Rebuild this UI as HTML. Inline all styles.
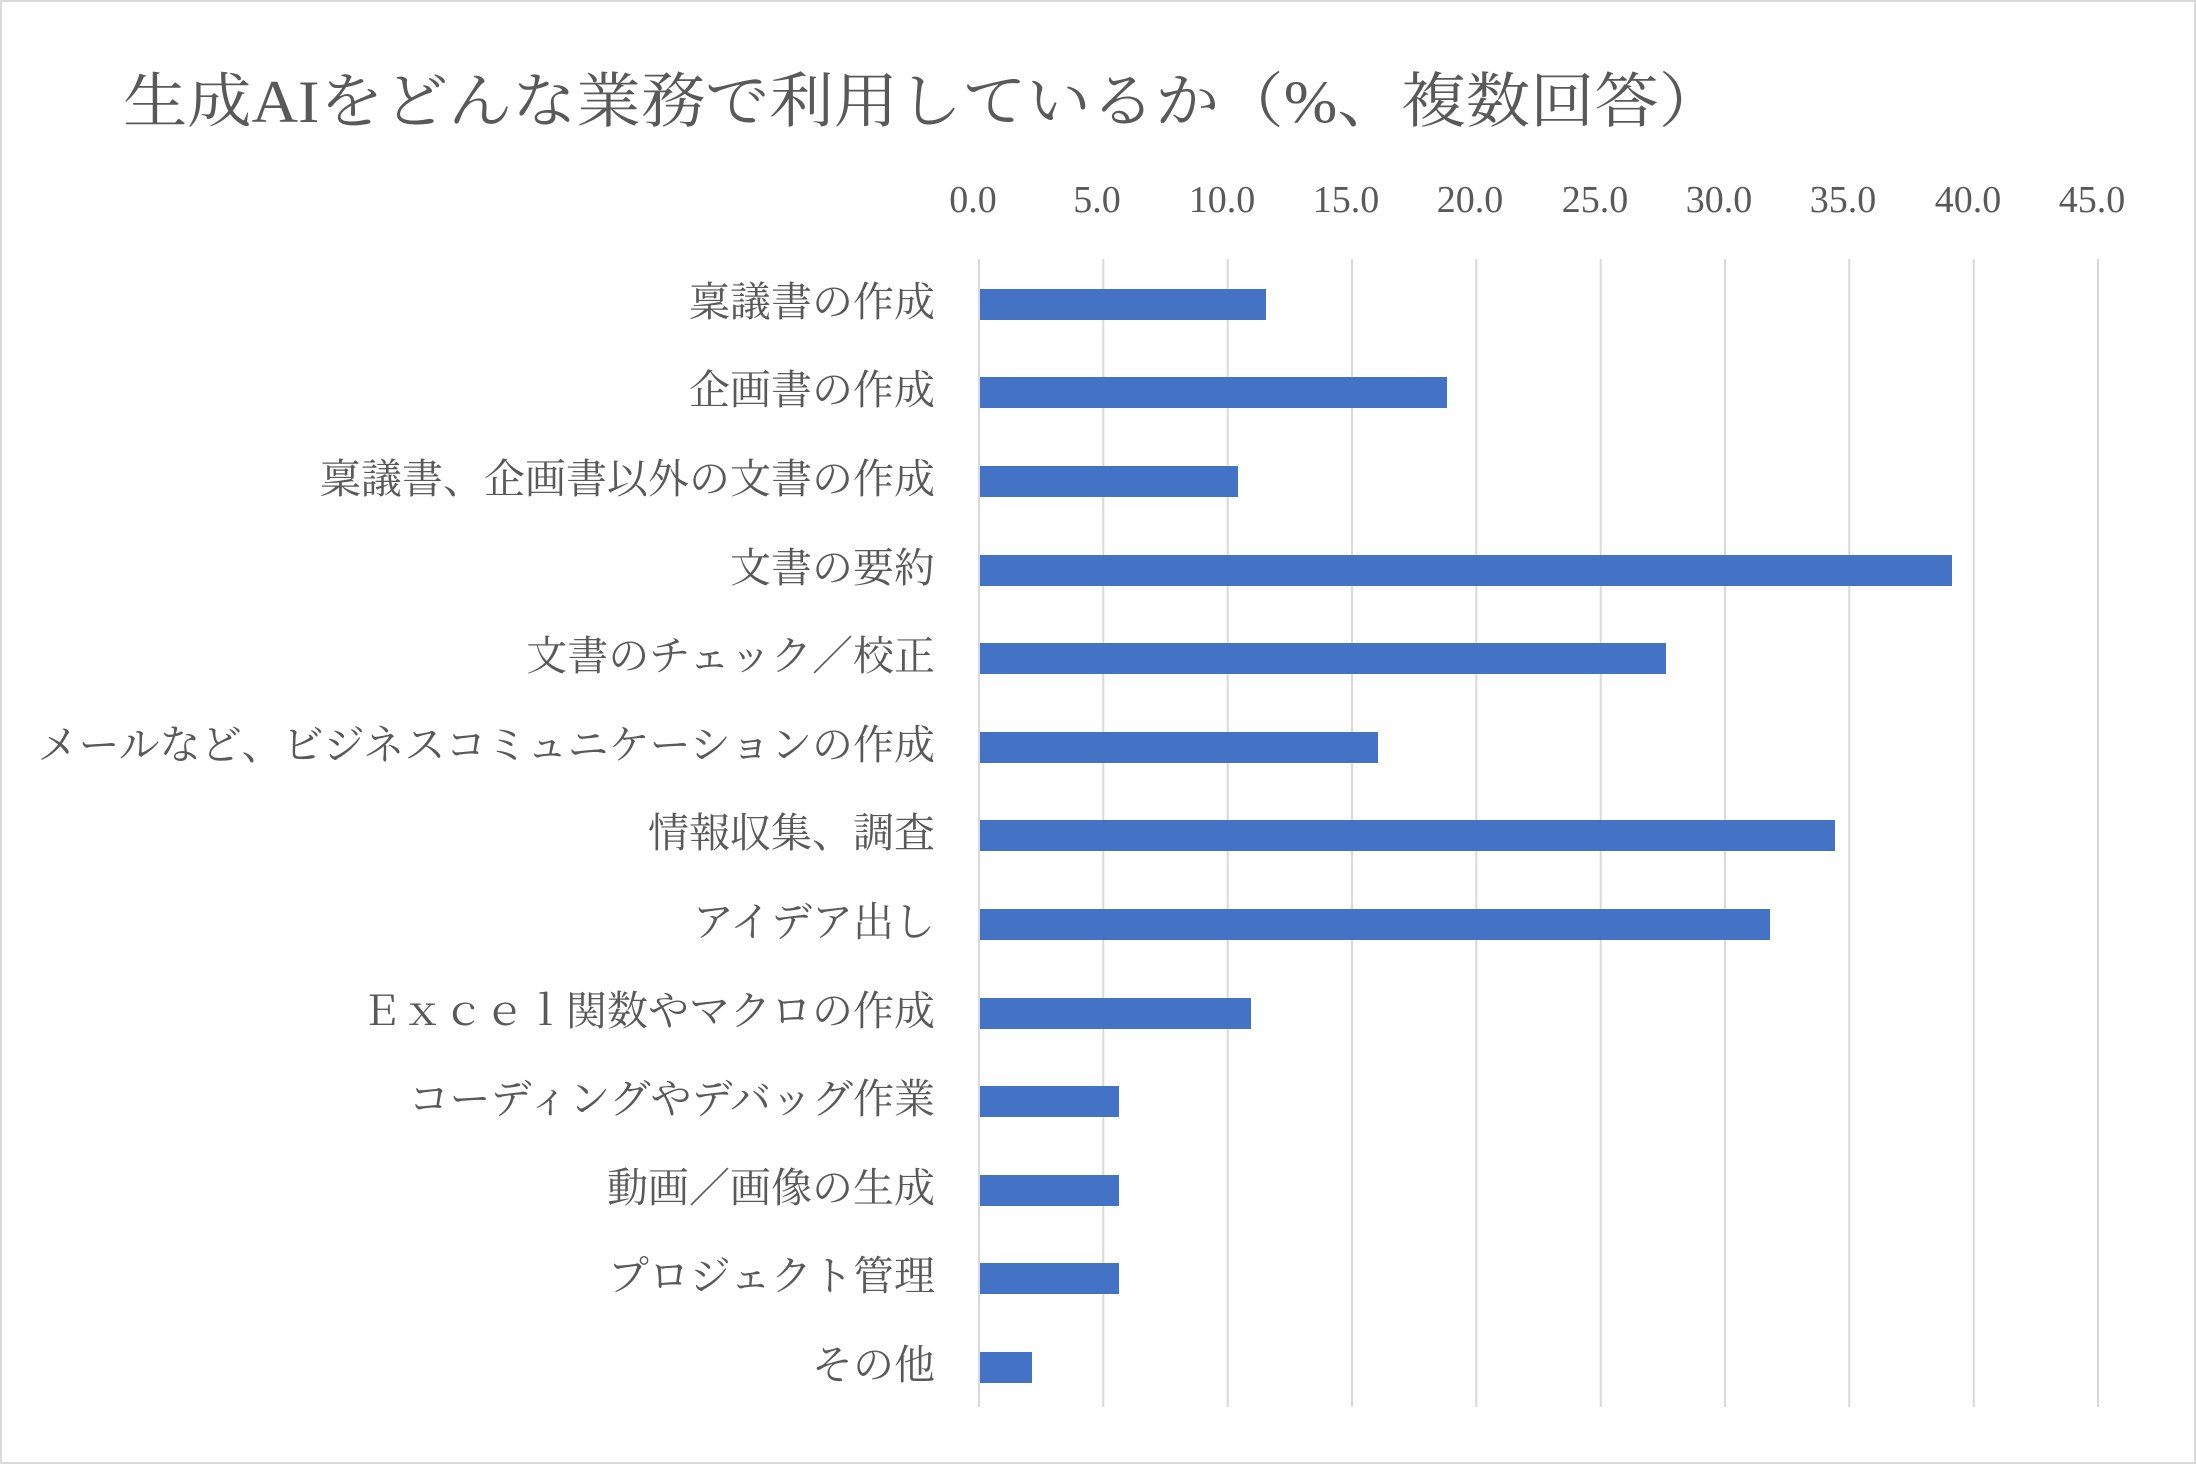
<!DOCTYPE html>
<html><head><meta charset="utf-8"><style>
html,body{margin:0;padding:0;background:#fff}
svg{display:block}
text{font-family:"Liberation Serif","Noto Serif CJK JP","Noto Serif CJK SC",serif;fill:#595959}
</style></head><body>
<svg width="2196" height="1464" viewBox="0 0 2196 1464" xmlns="http://www.w3.org/2000/svg">
<rect x="1" y="1" width="2194" height="1462" fill="#fff" stroke="#d9d9d9" stroke-width="2"/>
<text x="123" y="122" font-size="60" textLength="1600" lengthAdjust="spacingAndGlyphs">生成AIをどんな業務で利用しているか（%、複数回答）</text>
<g stroke="#d9d9d9" stroke-width="2">
<line x1="979" y1="259" x2="979" y2="1407"/>
<line x1="1103.3" y1="259" x2="1103.3" y2="1407"/>
<line x1="1227.7" y1="259" x2="1227.7" y2="1407"/>
<line x1="1352" y1="259" x2="1352" y2="1407"/>
<line x1="1476.3" y1="259" x2="1476.3" y2="1407"/>
<line x1="1600.7" y1="259" x2="1600.7" y2="1407"/>
<line x1="1725" y1="259" x2="1725" y2="1407"/>
<line x1="1849.3" y1="259" x2="1849.3" y2="1407"/>
<line x1="1973.7" y1="259" x2="1973.7" y2="1407"/>
<line x1="2098" y1="259" x2="2098" y2="1407"/>
</g>
<g font-size="38" text-anchor="middle">
<text x="973" y="212">0.0</text><text x="1097" y="212">5.0</text><text x="1222" y="212">10.0</text>
<text x="1346" y="212">15.0</text><text x="1470" y="212">20.0</text><text x="1595" y="212">25.0</text>
<text x="1719" y="212">30.0</text><text x="1843" y="212">35.0</text><text x="1968" y="212">40.0</text>
<text x="2092" y="212">45.0</text>
</g>
<g fill="#4472c4">
<rect x="980" y="289" width="286" height="31"/>
<rect x="980" y="377" width="467" height="31"/>
<rect x="980" y="466" width="258" height="31"/>
<rect x="980" y="555" width="972" height="31"/>
<rect x="980" y="643" width="686" height="31"/>
<rect x="980" y="732" width="398" height="31"/>
<rect x="980" y="820" width="855" height="31"/>
<rect x="980" y="909" width="790" height="31"/>
<rect x="980" y="998" width="271" height="31"/>
<rect x="980" y="1086" width="139" height="31"/>
<rect x="980" y="1175" width="139" height="31"/>
<rect x="980" y="1263" width="139" height="31"/>
<rect x="980" y="1352" width="52" height="31"/>
</g>
<g font-size="41" text-anchor="end">
<text x="935" y="316">稟議書の作成</text>
<text x="935" y="404">企画書の作成</text>
<text x="935" y="493">稟議書、企画書以外の文書の作成</text>
<text x="935" y="582">文書の要約</text>
<text x="935" y="670">文書のチェック／校正</text>
<text x="935" y="759">メールなど、ビジネスコミュニケーションの作成</text>
<text x="935" y="847">情報収集、調査</text>
<text x="935" y="936">アイデア出し</text>
<text x="935" y="1025">Ｅｘｃｅｌ関数やマクロの作成</text>
<text x="935" y="1113">コーディングやデバッグ作業</text>
<text x="935" y="1202">動画／画像の生成</text>
<text x="935" y="1290">プロジェクト管理</text>
<text x="935" y="1379">その他</text>
</g>
</svg>
</body></html>
